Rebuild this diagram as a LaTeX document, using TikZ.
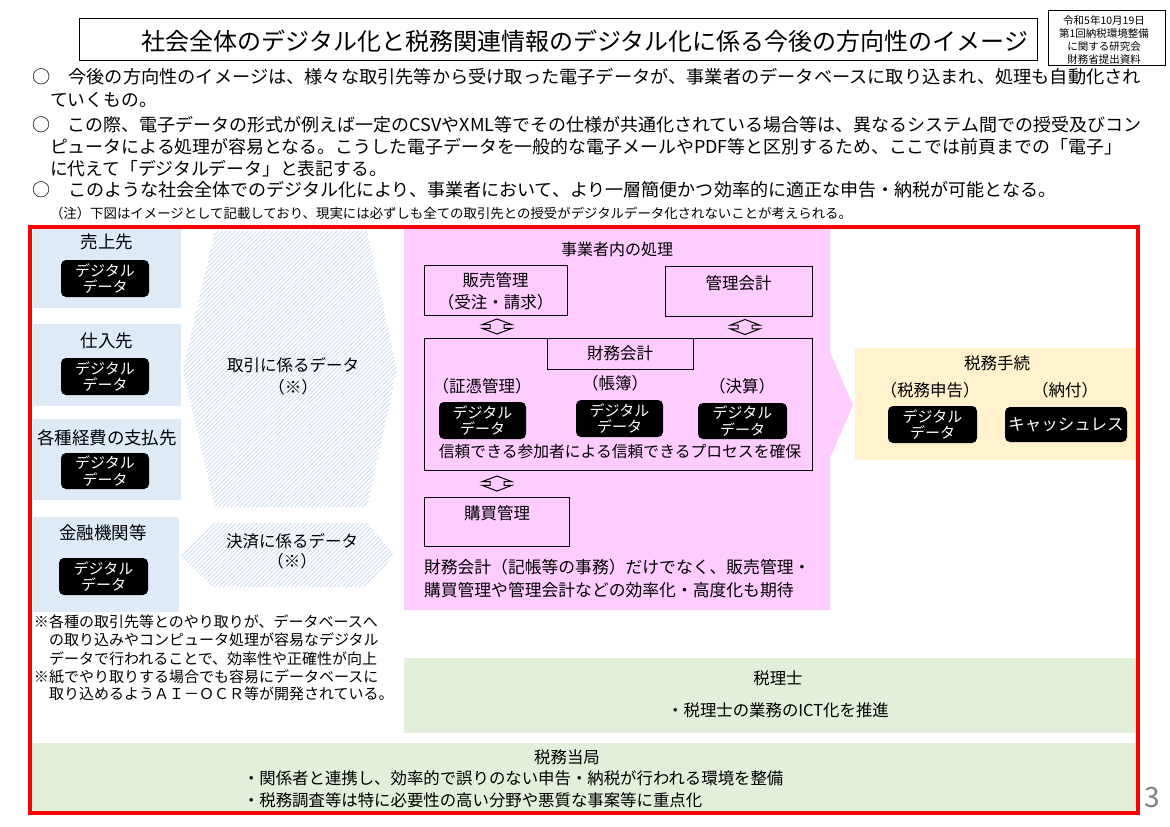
\documentclass[tikz,border=0pt]{standalone}
\usepackage{fontspec}
\usepackage{graphicx}
\setmainfont{Noto Sans CJK JP}
\usetikzlibrary{patterns.meta,calc}
\definecolor{lblue}{RGB}{222,235,247}
\definecolor{hatchc}{RGB}{196,215,238}
\definecolor{lpink}{RGB}{255,204,255}
\definecolor{lyellow}{RGB}{255,242,204}
\definecolor{lgreen}{RGB}{226,239,218}
\definecolor{pgray}{RGB}{128,128,128}
\newcommand{\myfs}[1]{\fontsize{#1pt}{#1pt}\selectfont}
\newcommand{\myfss}[2]{\fontsize{#1pt}{#2pt}\selectfont}
\newcommand{\fitw}[2]{\resizebox{#1}{\height}{#2}}
\begin{document}
\begin{tikzpicture}[x=1pt,y=-1pt,
  txt/.style={inner sep=0pt, outer sep=0pt, font=\myfs{16.5}},
  frame/.style={draw=black, line width=1pt, inner sep=0pt, font=\myfs{16.5}},
  blackbox/.style={fill=black, rounded corners=5pt, text=white, align=center, inner sep=0pt, font=\myfss{15}{16.5}},
  bluebox/.style={fill=lblue, inner sep=0pt},
  hatchfill/.style={fill=white, postaction={pattern={Lines[angle=45,distance=3pt,line width=0.7pt]}, pattern color=hatchc}},
  udarrow/.pic={\draw[line width=1pt, fill=lpink] (0,-7.5) -- (15,-1.8) -- (7,-1.8) -- (7,1.8) -- (15,1.8) -- (0,7.5) -- (-15,1.8) -- (-7,1.8) -- (-7,-1.8) -- (-15,-1.8) -- cycle;}
]
\useasboundingbox (0,0) rectangle (1170,827);
\fill[white] (0,0) rectangle (1170,827);

% ---- title ----
\node[frame, minimum width=958, minimum height=42] (titlebox) at (558,39) {};
\node[txt, font=\myfs{24}] (title) at (585,41) {社会全体のデジタル化と税務関連情報のデジタル化に係る今後の方向性のイメージ};
\node[frame, line width=0.8pt, minimum width=117, minimum height=55] (notebox) at (1106.5,37.5) {};
\node[txt, align=center, font=\myfss{10.5}{13}] (notetxt) at (1104,40) {令和5年10月19日\\第1回納税環境整備\\に関する研究会\\財務省提出資料};

% ---- bullets ----
\node[txt, anchor=west, font=\myfs{17.8}] (b1) at (32,77) {\fitw{1109pt}{○　今後の方向性のイメージは、様々な取引先等から受け取った電子データが、事業者のデータベースに取り込まれ、処理も自動化され}};
\node[txt, anchor=west, font=\myfs{17.8}] (b2) at (50,100) {ていくもの。};
\node[txt, anchor=west, font=\myfs{17.8}] (b3) at (32,125) {\fitw{1109pt}{○　この際、電子データの形式が例えば一定のCSVやXML等でその仕様が共通化されている場合等は、異なるシステム間での授受及びコン}};
\node[txt, anchor=west, font=\myfs{17.8}] (b4) at (50,147) {\fitw{1072pt}{ピュータによる処理が容易となる。こうした電子データを一般的な電子メールやPDF等と区別するため、ここでは前頁までの「電子」}};
\node[txt, anchor=west, font=\myfs{17.8}] (b5) at (50,169) {に代えて「デジタルデータ」と表記する。};
\node[txt, anchor=west, font=\myfs{17.8}] (b6) at (32,190) {\fitw{1024pt}{○　このような社会全体でのデジタル化により、事業者において、より一層簡便かつ効率的に適正な申告・納税が可能となる。}};
\node[txt, anchor=west, font=\myfs{13.3}] (b7) at (50,213) {\fitw{802pt}{（注）下図はイメージとして記載しており、現実には必ずしも全ての取引先との授受がデジタルデータ化されないことが考えられる。}};

% ---- left column ----
\node[bluebox, minimum width=148, minimum height=79] (c1) at (107,268.5) {};
\node[bluebox, minimum width=148, minimum height=82] (c2) at (107,365) {};
\node[bluebox, minimum width=148, minimum height=81] (c3) at (107,459.5) {};
\node[bluebox, minimum width=146, minimum height=95] (c4) at (106,564.5) {};
\node[txt, font=\myfs{17.5}] (c1t) at (107,242) {売上先};
\node[txt, font=\myfs{17.5}] (c2t) at (107,341) {仕入先};
\node[txt, font=\myfs{17.5}] (c3t) at (107,438) {各種経費の支払先};
\node[txt, font=\myfs{17.5}] (c4t) at (103,533) {金融機関等};
\node[blackbox, minimum width=88, minimum height=37] (k1) at (105,278.5) {デジタル\\データ};
\node[blackbox, minimum width=88, minimum height=37] (k2) at (105,376.5) {デジタル\\データ};
\node[blackbox, minimum width=88, minimum height=36] (k3) at (105,471) {デジタル\\データ};
\node[blackbox, minimum width=89, minimum height=37] (k4) at (103.5,576.5) {デジタル\\データ};

% ---- hatched hexagons ----
\path[hatchfill] (215,231) -- (367,231) -- (397,370) -- (367,507) -- (215,507) -- (183,370) -- cycle;
\path[hatchfill] (213,523) -- (367,523) -- (394,555) -- (367,587) -- (213,587) -- (180,555) -- cycle;
\node[txt, align=center, font=\myfss{16.5}{22}] (h1t) at (293,376) {取引に係るデータ\\（※）};
\node[txt, align=center, font=\myfss{16.5}{20}] (h2t) at (292,551) {決済に係るデータ\\（※）};

% ---- footnote ----
\node[txt, anchor=west, font=\myfs{15}] (f1) at (34,622) {※各種の取引先等とのやり取りが、データベースへ};
\node[txt, anchor=west, font=\myfs{15}] (f2) at (49,640) {の取り込みやコンピュータ処理が容易なデジタル};
\node[txt, anchor=west, font=\myfs{15}] (f3) at (49,659) {データで行われることで、効率性や正確性が向上};
\node[txt, anchor=west, font=\myfs{15}] (f4) at (34,677) {※紙でやり取りする場合でも容易にデータベースに};
\node[txt, anchor=west, font=\myfs{15}] (f5) at (49,694) {取り込めるようＡＩ－ＯＣＲ等が開発されている。};

% ---- pink area ----
\fill[lpink] (404,229) -- (830,229) -- (830,352) -- (853,405) -- (830,458) -- (830,610) -- (404,610) -- cycle;
\node[txt, font=\myfs{16}] (pt) at (617,249) {事業者内の処理};
\node[frame, minimum width=143, minimum height=50] (hanbai) at (495.5,290) {};
\node[txt, align=center, font=\myfss{16.5}{22}] (hanbait) at (495.5,291) {販売管理\\（受注・請求）};
\node[frame, minimum width=147, minimum height=50] (kanri) at (738.5,291) {};
\node[txt] (kanrit) at (738.5,283) {管理会計};
\node[frame, minimum width=388, minimum height=132] (zaimu) at (618,404) {};
\node[frame, minimum width=146, minimum height=31] (zaimut) at (620,353.5) {財務会計};
\node[txt] (sho) at (482,386) {（証憑管理）};
\node[txt] (cho) at (615,383) {（帳簿）};
\node[txt] (kes) at (742,386) {（決算）};
\node[blackbox, minimum width=87, minimum height=37] (d1) at (482.5,420.5) {デジタル\\データ};
\node[blackbox, minimum width=87, minimum height=37] (d2) at (619.5,418.5) {デジタル\\データ};
\node[blackbox, minimum width=89, minimum height=36] (d3) at (742.5,421) {デジタル\\データ};
\node[txt, font=\myfs{15.8}] (shinrai) at (620,452) {信頼できる参加者による信頼できるプロセスを確保};
\node[frame, minimum width=145, minimum height=49] (kobai) at (496.5,521.5) {};
\node[txt] (kobait) at (497,513) {購買管理};
\node[txt, anchor=west, font=\myfs{16.8}] (p1) at (424,567) {財務会計（記帳等の事務）だけでなく、販売管理・};
\node[txt, anchor=west, font=\myfs{16.8}] (p2) at (424,590) {購買管理や管理会計などの効率化・高度化も期待};
\pic at ($(497,0 |- hanbai.south)!0.5!(497,0 |- zaimu.north)$) {udarrow};
\pic at ($(745,0 |- kanri.south)!0.5!(745,0 |- zaimu.north)$) {udarrow};
\pic at ($(497,0 |- zaimu.south)!0.5!(497,0 |- kobai.north)$) {udarrow};

% ---- tax procedure ----
\node[fill=lyellow, inner sep=0pt, minimum width=281, minimum height=112] (tetsu) at (995.5,404) {};
\node[txt] (tetsut) at (997,363) {税務手続};
\node[txt] (shinkoku) at (930,390) {（税務申告）};
\node[txt] (nofu) at (1065,390) {（納付）};
\node[blackbox, minimum width=89, minimum height=37] (t1) at (932.5,424.5) {デジタル\\データ};
\node[blackbox, minimum width=122, minimum height=35, font=\myfs{16.5}] (t2) at (1066,424.5) {キャッシュレス};

% ---- green boxes ----
\node[fill=lgreen, inner sep=0pt, minimum width=732, minimum height=75] (zeirishi) at (770,695.5) {};
\node[txt, font=\myfs{16.4}] (zt) at (778,678) {税理士};
\node[txt, font=\myfs{16.4}] (zl) at (778,710) {・税理士の業務のICT化を推進};
\node[fill=lgreen, inner sep=0pt, minimum width=1106, minimum height=68] (tokyoku) at (583,777) {};
\node[txt, font=\myfs{16.4}] (tt) at (567,757) {税務当局};
\node[txt, anchor=west, font=\myfs{16.4}] (tl1) at (243,778) {・関係者と連携し、効率的で誤りのない申告・納税が行われる環境を整備};
\node[txt, anchor=west, font=\myfs{16.4}] (tl2) at (243,800) {・税務調査等は特に必要性の高い分野や悪質な事案等に重点化};

% ---- red frame ----
\node[draw=red, line width=4pt, inner sep=0pt, minimum width=1108, minimum height=586] (redframe) at (584,520) {};
\node[txt, text=pgray, font=\myfs{28}] (pnum) at (1152,798) {3};
\end{tikzpicture}
\end{document}
